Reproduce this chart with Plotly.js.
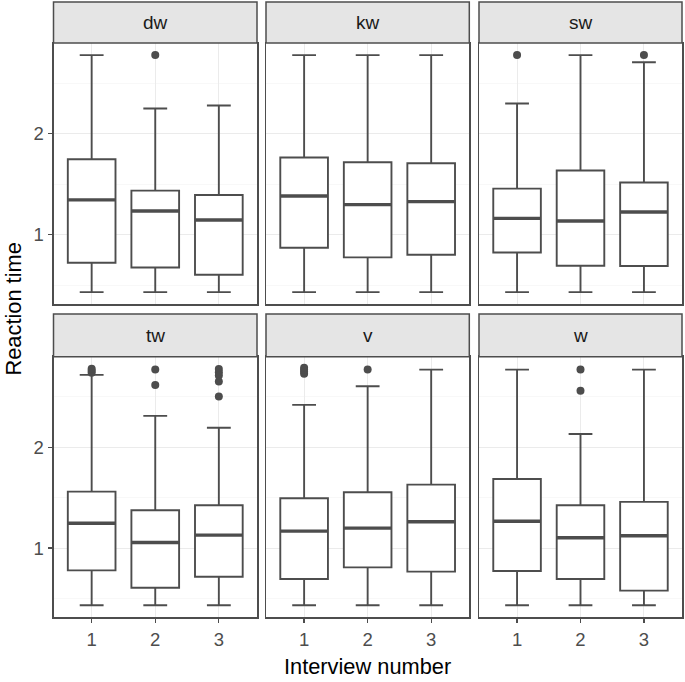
<!DOCTYPE html>
<html>
<head>
<meta charset="utf-8">
<script src="https://cdn.plot.ly/plotly-3.0.1.min.js"></script>
<style>html,body{margin:0;padding:0;background:#fff;}#chart{width:685px;height:682px;}</style>
</head>
<body>
<div id="chart"></div>
<script>
// Facet labels and interview numbers
const facets = ["dw", "kw", "sw", "tw", "v", "w"];
const interviews = [1, 2, 3];
const tickLabelsX = ["1", "2", "3"];
const tickValsY = [1, 2];
const minorTickValsY = [0.5, 1.5, 2.5];

// Box statistics per facet (rows) and interview (columns)
const lowerWhisker = [
  [0.431, 0.431, 0.431],
  [0.431, 0.431, 0.431],
  [0.431, 0.431, 0.431],
  [0.432, 0.432, 0.432],
  [0.432, 0.432, 0.432],
  [0.432, 0.432, 0.432]
];
const q1 = [
  [0.722, 0.675, 0.603],
  [0.871, 0.775, 0.801],
  [0.824, 0.692, 0.689],
  [0.779, 0.607, 0.716],
  [0.693, 0.809, 0.766],
  [0.772, 0.693, 0.578]
];
const medians = [
  [1.345, 1.235, 1.146],
  [1.384, 1.298, 1.328],
  [1.162, 1.136, 1.225],
  [1.247, 1.056, 1.129],
  [1.168, 1.198, 1.261],
  [1.267, 1.102, 1.122]
];
const q3 = [
  [1.748, 1.437, 1.394],
  [1.765, 1.718, 1.708],
  [1.457, 1.636, 1.517],
  [1.561, 1.376, 1.426],
  [1.495, 1.554, 1.630],
  [1.686, 1.426, 1.459]
];
const upperWhisker = [
  [2.780, 2.251, 2.281],
  [2.780, 2.780, 2.780],
  [2.301, 2.780, 2.709],
  [2.720, 2.313, 2.195],
  [2.422, 2.607, 2.772],
  [2.772, 2.132, 2.772]
];
// Outliers: facet index, interview, value
const outlierFacet =     [0,    2,    2,    3,    3,    3,    3,     3,    3,     3,     3,     3,     3,     4,    4,    4,    4,    4,     5,     5];
const outlierInterview = [2,    1,    3,    1,    1,    1,    2,     2,    3,     3,     3,     3,     3,     1,    1,    1,    1,    2,     2,     2];
const outlierValue =     [2.78, 2.78, 2.78, 2.74, 2.76, 2.78, 2.772, 2.62, 2.779, 2.746, 2.713, 2.653, 2.505, 2.73, 2.75, 2.77, 2.79, 2.772, 2.772, 2.561];

const W = 685, H = 682;
const colDom = [[53.5, 257], [266, 469.3], [479, 682]];
const panelRows = [[43, 304], [356.7, 617.3]];
const stripRows = [[2, 43], [314, 356.7]];
const lineCol = "#4d4d4d";
const boxWidth = 0.75;
const FONT = "Liberation Sans, Arial, Helvetica, sans-serif";

const traces = [];
const layout = {
  width: W, height: H,
  margin: {l: 0, r: 0, t: 0, b: 0},
  paper_bgcolor: "#ffffff",
  plot_bgcolor: "#ffffff",
  showlegend: false,
  font: {family: FONT},
  shapes: [],
  annotations: []
};

facets.forEach((f, i) => {
  const r = Math.floor(i / 3), c = i % 3;
  const ax = i === 0 ? "" : String(i + 1);
  const xa = "x" + ax, ya = "y" + ax;
  traces.push({
    type: "box",
    xaxis: xa, yaxis: ya,
    x: interviews,
    q1: q1[i], median: medians[i], q3: q3[i],
    lowerfence: lowerWhisker[i], upperfence: upperWhisker[i],
    width: boxWidth,
    fillcolor: "#ffffff",
    line: {color: lineCol, width: 1.9},
    boxpoints: false,
    hoverinfo: "skip"
  });
  // thick median bars
  const mx = [], my = [];
  interviews.forEach((p, j) => {
    mx.push(p - boxWidth / 2, p + boxWidth / 2, null);
    my.push(medians[i][j], medians[i][j], null);
  });
  traces.push({
    type: "scatter", mode: "lines", xaxis: xa, yaxis: ya,
    x: mx, y: my, line: {color: lineCol, width: 3.4}, hoverinfo: "skip"
  });
  // outliers
  const ox = [], oy = [];
  outlierFacet.forEach((fi, k) => {
    if (fi === i) { ox.push(outlierInterview[k]); oy.push(outlierValue[k]); }
  });
  traces.push({
    type: "scatter", mode: "markers", xaxis: xa, yaxis: ya,
    x: ox, y: oy, marker: {color: lineCol, size: 8}, hoverinfo: "skip"
  });

  const xd = [colDom[c][0] / W, colDom[c][1] / W];
  const yd = [(H - panelRows[r][1]) / H, (H - panelRows[r][0]) / H];
  layout["xaxis" + ax] = {
    domain: xd, anchor: ya, range: [0.4, 3.6],
    tickvals: interviews, ticktext: tickLabelsX,
    showticklabels: r === 1,
    ticks: r === 1 ? "outside" : "", ticklen: 4.5, tickwidth: 1.3, tickcolor: lineCol,
    tickfont: {size: 18.5, color: "#4d4d4d", family: FONT},
    showgrid: true, gridcolor: "#ebebeb", gridwidth: 1.1,
    zeroline: false,
    showline: true, mirror: true, linecolor: lineCol, linewidth: 1.5,
    fixedrange: true
  };
  layout["yaxis" + ax] = {
    domain: yd, anchor: xa, range: [0.313, 2.9],
    tickvals: tickValsY, ticktext: tickValsY.map(String),
    showticklabels: c === 0,
    ticks: c === 0 ? "outside" : "", ticklen: 4.5, tickwidth: 1.3, tickcolor: lineCol,
    tickfont: {size: 18.5, color: "#4d4d4d", family: FONT},
    showgrid: true, gridcolor: "#ebebeb", gridwidth: 1.1,
    minor: {tickvals: minorTickValsY, showgrid: true, gridcolor: "#f4f4f4", gridwidth: 0.6, ticks: ""},
    zeroline: false,
    showline: true, mirror: true, linecolor: lineCol, linewidth: 1.5,
    fixedrange: true
  };
  // strip
  const sy = [(H - stripRows[r][1]) / H, (H - stripRows[r][0]) / H];
  layout.shapes.push({
    type: "rect", xref: "paper", yref: "paper",
    x0: xd[0], x1: xd[1], y0: sy[0], y1: sy[1],
    fillcolor: "#e5e5e5", line: {color: lineCol, width: 1.5}, layer: "above"
  });
  layout.annotations.push({
    xref: "paper", yref: "paper",
    x: (xd[0] + xd[1]) / 2, y: (sy[0] + sy[1]) / 2,
    text: f, showarrow: false, xanchor: "center", yanchor: "middle",
    font: {size: 19, color: "#1a1a1a", family: FONT}
  });
});

layout.annotations.push({
  xref: "paper", yref: "paper",
  x: 367.75 / W, y: (H - 666.5) / H,
  text: "Interview number", showarrow: false, xanchor: "center", yanchor: "middle",
  font: {size: 21.8, color: "#000000", family: FONT}
});
layout.annotations.push({
  xref: "paper", yref: "paper",
  x: 13 / W, y: (H - 309.5) / H,
  text: "Reaction time", showarrow: false, xanchor: "center", yanchor: "middle",
  textangle: -90,
  font: {size: 21.8, color: "#000000", family: FONT}
});

Plotly.newPlot("chart", traces, layout, {staticPlot: true, displayModeBar: false});
</script>
</body>
</html>
